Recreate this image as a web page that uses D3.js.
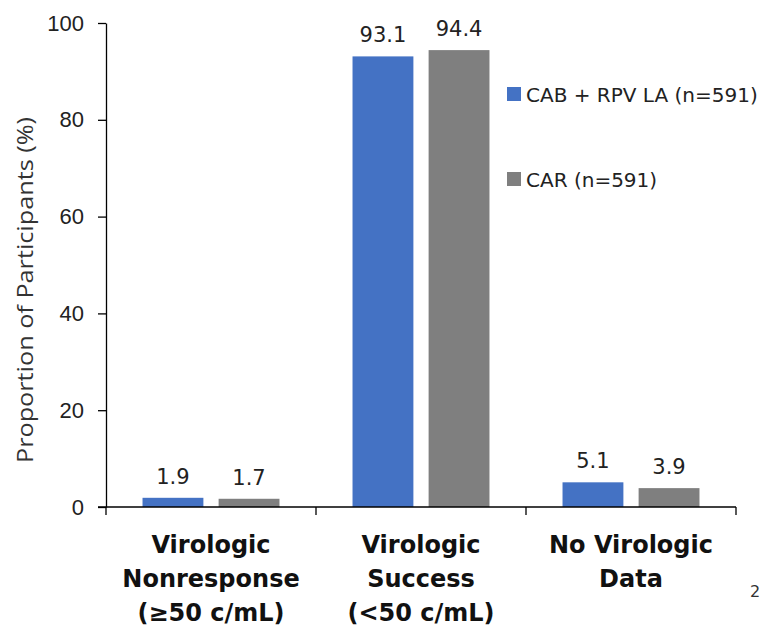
<!DOCTYPE html>
<html>
<head>
<meta charset="utf-8">
<script src="https://cdn.jsdelivr.net/npm/d3@7/dist/d3.min.js"></script>
<style>
  html, body { margin: 0; padding: 0; background: #fff; }
  svg { display: block; font-family: "DejaVu Sans", Verdana, sans-serif; }
</style>
</head>
<body>
<svg id="chart" width="774" height="633"></svg>
<script>
// Snapshot outcome by category, two treatment arms
const categories = ["Virologic Nonresponse (≥50 c/mL)", "Virologic Success (<50 c/mL)", "No Virologic Data"];
const categoryLines = [
  ["Virologic", "Nonresponse", "(≥50 c/mL)"],
  ["Virologic", "Success", "(<50 c/mL)"],
  ["No Virologic", "Data"]
];
const seriesNames = ["CAB + RPV LA (n=591)", "CAR (n=591)"];
const cabRpvValues = [1.9, 93.1, 5.1];
const carValues = [1.7, 94.4, 3.9];
const yTicks = [0, 20, 40, 60, 80, 100];
const colors = ["#4472C4", "#7F7F7F"];

const svg = d3.select("#chart");
const margin = { left: 106, right: 38, top: 23, bottom: 126 };
const W = 774, H = 633;

const x = d3.scaleBand().domain(categories).range([margin.left, W - margin.right]).paddingInner(0).paddingOuter(0);
const xInner = d3.scaleBand().domain(seriesNames).range([0, x.bandwidth()]).paddingInner(0.2).paddingOuter(0.48);
const y = d3.scaleLinear().domain([0, 100]).range([H - margin.bottom, margin.top]);

const rows = categories.map((c, i) => ({ cat: c, vals: [cabRpvValues[i], carValues[i]] }));

// Bars with value labels
const g = svg.append("g");
rows.forEach((r) => {
  r.vals.forEach((v, j) => {
    const bx = x(r.cat) + xInner(seriesNames[j]);
    g.append("rect")
      .attr("x", bx).attr("width", xInner.bandwidth())
      .attr("y", y(v)).attr("height", y(0) - y(v))
      .attr("fill", colors[j]);
    g.append("text")
      .attr("x", bx + xInner.bandwidth() / 2)
      .attr("y", y(v) - 14)
      .attr("text-anchor", "middle")
      .attr("font-size", 21)
      .attr("fill", "#222")
      .text(v.toFixed(1));
  });
});

// Y axis
const yAxis = d3.axisLeft(y).tickValues(yTicks).tickSize(8).tickSizeOuter(0).tickPadding(14);
const yg = svg.append("g").attr("transform", `translate(${margin.left},0)`).call(yAxis);
yg.select(".domain").attr("stroke", "#000").attr("stroke-width", 1.3);
yg.selectAll(".tick line").attr("stroke", "#000").attr("stroke-width", 1.3);
yg.selectAll(".tick text")
  .attr("font-size", 22)
  .attr("fill", "#222")
  .attr("font-family", "'Liberation Sans', Arial, sans-serif");

// X axis with ticks at category boundaries
const xg = svg.append("g").attr("transform", `translate(0,${y(0)})`);
xg.append("line").attr("x1", margin.left - 8).attr("x2", W - margin.right)
  .attr("stroke", "#000").attr("stroke-width", 1.3);
const bounds = categories.map(c => x(c)).concat([x(categories[categories.length - 1]) + x.bandwidth()]);
xg.selectAll("line.tk").data(bounds).enter().append("line")
  .attr("class", "tk").attr("x1", d => d).attr("x2", d => d)
  .attr("y1", 0).attr("y2", 8).attr("stroke", "#000").attr("stroke-width", 1.3);

// Category labels
categoryLines.forEach((lines, i) => {
  const cx = x(categories[i]) + x.bandwidth() / 2;
  const t = svg.append("text")
    .attr("x", cx)
    .attr("y", 553)
    .attr("text-anchor", "middle")
    .attr("font-size", 24)
    .attr("font-weight", "bold")
    .attr("fill", "#111");
  lines.forEach((ln, k) => {
    t.append("tspan").attr("x", cx).attr("dy", k === 0 ? 0 : 34).text(ln);
  });
});

// Y axis title
svg.append("text")
  .attr("transform", `translate(33,290) rotate(-90)`)
  .attr("text-anchor", "middle")
  .attr("font-family", "'Open Sans', 'Noto Sans', sans-serif")
  .attr("font-size", 21)
  .attr("textLength", 346)
  .attr("lengthAdjust", "spacingAndGlyphs")
  .attr("fill", "#333")
  .text("Proportion of Participants (%)");

// Legend
const legendBase = [102, 187];
seriesNames.forEach((s, j) => {
  svg.append("rect").attr("x", 507).attr("y", legendBase[j] - 15).attr("width", 14).attr("height", 14).attr("fill", colors[j]);
  svg.append("text").attr("x", 526).attr("y", legendBase[j]).attr("font-size", 20).attr("fill", "#222").text(s);
});

// Slide number
svg.append("text").attr("x", 750).attr("y", 597).attr("font-size", 16).attr("fill", "#333").text("2");
</script>
</body>
</html>
